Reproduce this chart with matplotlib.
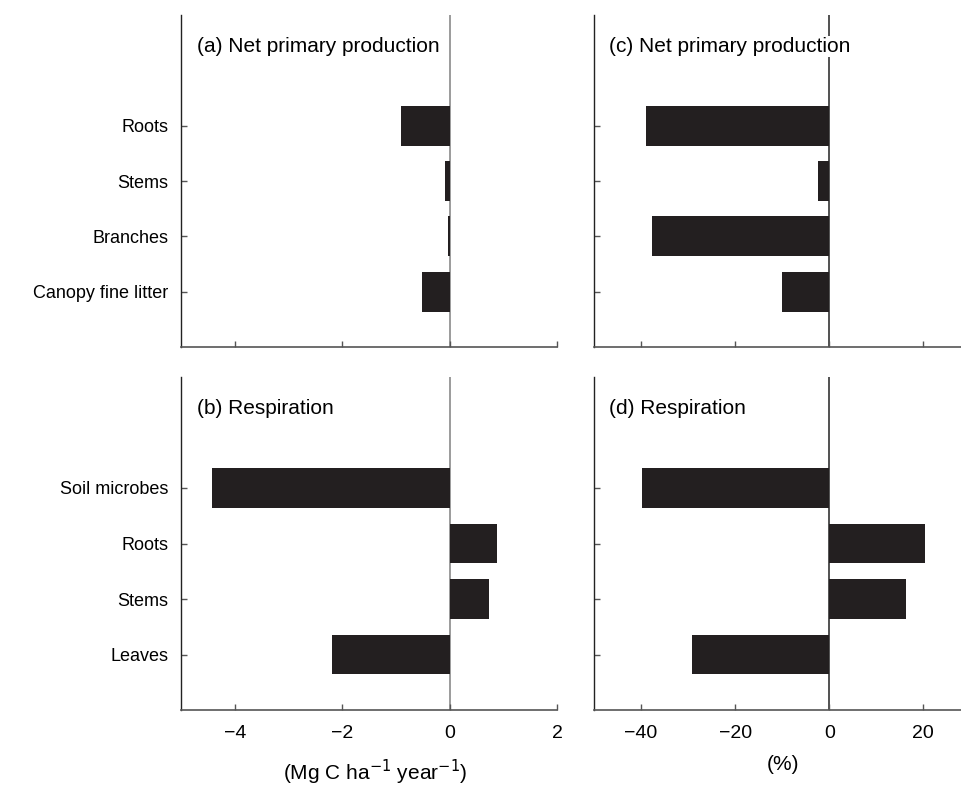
import matplotlib
matplotlib.use('Agg')
import matplotlib.pyplot as plt

plt.rcParams['font.family'] = ['Liberation Sans', 'DejaVu Sans']

npp_labels = ['Roots', 'Stems', 'Branches', 'Canopy fine litter']
npp_abs = [-0.91, -0.09, -0.03, -0.51]
npp_pct = [-39.0, -2.4, -37.6, -10.1]

resp_labels = ['Soil microbes', 'Roots', 'Stems', 'Leaves']
resp_abs = [-4.43, 0.89, 0.74, -2.19]
resp_pct = [-39.7, 20.3, 16.3, -29.2]

abs_ticks = [-4, -2, 0, 2]
pct_ticks = [-40, -20, 0, 20]

bar_color = '#231f20'
axis_color = '#555555'

fig = plt.figure(figsize=(9.61, 7.85), dpi=100)
W, H = 961, 785


def make_ax(x0, x1, y0, y1):
    return fig.add_axes([x0 / W, 1 - y1 / H, (x1 - x0) / W, (y1 - y0) / H])


ax_a = make_ax(181, 557, 15, 347)
ax_b = make_ax(181, 557, 377, 710)
ax_c = make_ax(594, 961, 15, 347)
ax_d = make_ax(594, 961, 377, 710)

panels = [
    (ax_a, npp_labels, npp_abs, '(a) Net primary production', (-5, 2), abs_ticks, True, 'grey'),
    (ax_b, resp_labels, resp_abs, '(b) Respiration', (-5, 2), abs_ticks, True, 'grey'),
    (ax_c, npp_labels, npp_pct, '(c) Net primary production', (-50, 28), pct_ticks, False, '#222222'),
    (ax_d, resp_labels, resp_pct, '(d) Respiration', (-50, 28), pct_ticks, False, '#222222'),
]

for ax, labels, vals, title, xlim, xticks, show_y, zcol in panels:
    n = len(labels)
    pos = [n - 1 - i for i in range(n)]
    ax.axvline(0, color=zcol, lw=1.1, zorder=1)
    ax.barh(pos, vals, height=0.72, color=bar_color, zorder=2)
    ax.set_xlim(*xlim)
    ax.set_ylim(-1, 5)
    ax.set_xticks(xticks)
    ax.set_yticks(pos)
    if show_y:
        ax.set_yticklabels(labels)
    else:
        ax.set_yticklabels([])
    for s in ['top', 'right']:
        ax.spines[s].set_visible(False)
    ax.spines['left'].set_color('#222222')
    ax.spines['bottom'].set_color(axis_color)
    ax.spines['left'].set_linewidth(1.0)
    ax.spines['bottom'].set_linewidth(1.2)
    ax.tick_params(axis='both', direction='in', length=4, width=1.0,
                   color=axis_color)
    ax.tick_params(axis='x', labelsize=14, pad=11)
    ax.tick_params(axis='y', labelsize=13, pad=9)
    ax.text(0.042, 0.905, title, transform=ax.transAxes, fontsize=15,
            va='center', ha='left',
            bbox=dict(facecolor='white', edgecolor='none', pad=1))

ax_a.set_xticklabels([])
ax_c.set_xticklabels([])
ax_b.set_xlabel('(Mg C ha$^{-1}$ year$^{-1}$)', fontsize=15, va='center')
ax_d.set_xlabel('(%)', fontsize=15, va='center')
ax_b.xaxis.set_label_coords(0.516, -0.186)
ax_d.xaxis.set_label_coords(0.515, -0.165)

fig.savefig('out.png', dpi=100)
